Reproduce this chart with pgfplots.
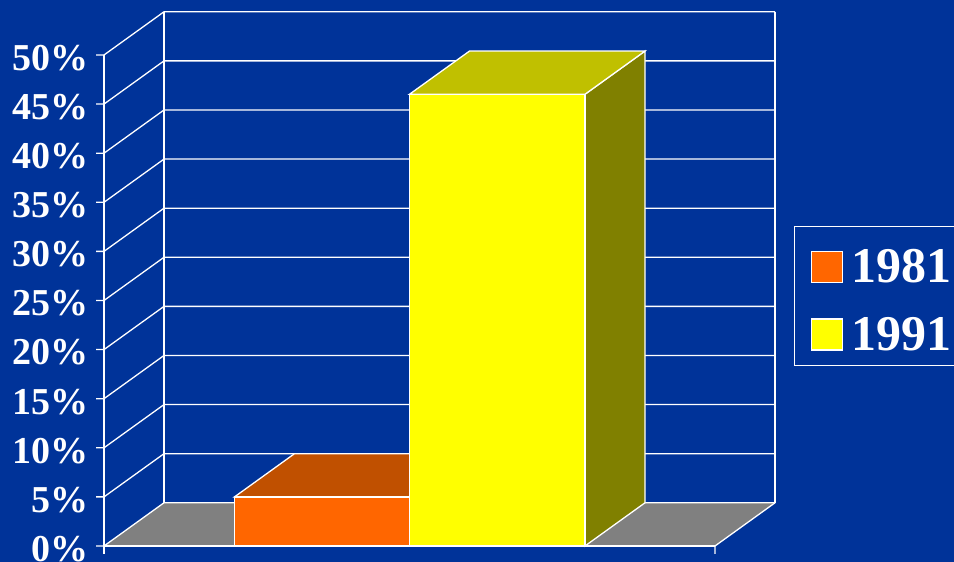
\documentclass[border=0pt]{standalone}
\usepackage{fontspec}
\setmainfont{Liberation Serif}
\usepackage{pgfplots}
\pgfplotsset{compat=1.18}
\definecolor{bgblue}{HTML}{003399}
\definecolor{floorgray}{HTML}{808080}
\definecolor{orF}{HTML}{FF6600}
\definecolor{orT}{HTML}{C05000}
\definecolor{yeF}{HTML}{FFFF00}
\definecolor{yeT}{HTML}{C0C000}
\definecolor{yeS}{HTML}{808000}
\begin{document}
\begin{tikzpicture}
\useasboundingbox (0,0) rectangle (954bp,562bp);
\clip (0,0) rectangle (954bp,562bp);
\fill[bgblue] (0,0) rectangle (954bp,562bp);
\begin{axis}[
  at={(0,0)}, anchor=south west,
  width=954bp, height=562bp, scale only axis,
  xmin=-104, xmax=850, ymin=-1.63, ymax=55.6,
  hide axis, clip=false,
  legend image code/.code={\draw[#1] (0bp,0bp) rectangle (31bp,31bp);},
  legend style={at={(0.8323,0.5979)}, anchor=north west, draw=white,
    line width=1.2bp, fill=none,
    font=\bfseries\fontsize{50bp}{50bp}\selectfont, text=white,
    inner xsep=16bp, inner ysep=14bp, row sep=24bp, column sep=9bp,
    nodes={inner sep=0pt, anchor=base west, text=white}},
  grid line/.style={white, line width=1.3bp, forget plot},
  face/.style={draw=white, line width=1.3bp},
]
% floor
\addplot[fill=floorgray, draw=none, forget plot] coordinates {(0,0) (611,0) (671,4.4) (60,4.4)} -- cycle;
% grid: tick, side-wall diagonal, back-wall line
\addplot[grid line] coordinates {(-8,0) (0,0) (60,4.4) (671,4.4)};
\addplot[grid line] coordinates {(-8,5) (0,5) (60,9.4) (671,9.4)};
\addplot[grid line] coordinates {(-8,10) (0,10) (60,14.4) (671,14.4)};
\addplot[grid line] coordinates {(-8,15) (0,15) (60,19.4) (671,19.4)};
\addplot[grid line] coordinates {(-8,20) (0,20) (60,24.4) (671,24.4)};
\addplot[grid line] coordinates {(-8,25) (0,25) (60,29.4) (671,29.4)};
\addplot[grid line] coordinates {(-8,30) (0,30) (60,34.4) (671,34.4)};
\addplot[grid line] coordinates {(-8,35) (0,35) (60,39.4) (671,39.4)};
\addplot[grid line] coordinates {(-8,40) (0,40) (60,44.4) (671,44.4)};
\addplot[grid line] coordinates {(-8,45) (0,45) (60,49.4) (671,49.4)};
\addplot[grid line] coordinates {(-8,50) (0,50) (60,54.4) (671,54.4)};
% frame edges
\addplot[grid line] coordinates {(0,-0.8) (0,50)};
\addplot[grid line] coordinates {(60,4.4) (60,54.4)};
\addplot[grid line] coordinates {(671,4.4) (671,54.4)};
\addplot[grid line] coordinates {(0,0) (611,0)};
\addplot[grid line] coordinates {(611,-0.8) (611,0) (671,4.4)};
% 1981 bar: value 5
\addplot[face, fill=orT, forget plot] coordinates {(130.5,5) (305.5,5) (365.5,9.4) (190.5,9.4)} -- cycle;
\addplot[face, fill=orF] coordinates {(130.5,0) (305.5,0) (305.5,5) (130.5,5)} -- cycle;
\addlegendentry{\rule{0pt}{42bp}1981}
% 1991 bar: value 46
\addplot[face, fill=yeS, forget plot] coordinates {(481,0) (541,4.4) (541,50.4) (481,46)} -- cycle;
\addplot[face, fill=yeT, forget plot] coordinates {(305.5,46) (481,46) (541,50.4) (365.5,50.4)} -- cycle;
\addplot[face, fill=yeF] coordinates {(305.5,0) (481,0) (481,46) (305.5,46)} -- cycle;
\addlegendentry{\rule{0pt}{42bp}1991}
% tick labels
\pgfplotsinvokeforeach{0,5,...,50}{
  \node[anchor=east, inner sep=0pt, text=white, yshift=-3bp,
        font=\bfseries\fontsize{38bp}{38bp}\selectfont] at (axis cs:-15,#1) {#1\%};
}
\end{axis}
\end{tikzpicture}
\end{document}
